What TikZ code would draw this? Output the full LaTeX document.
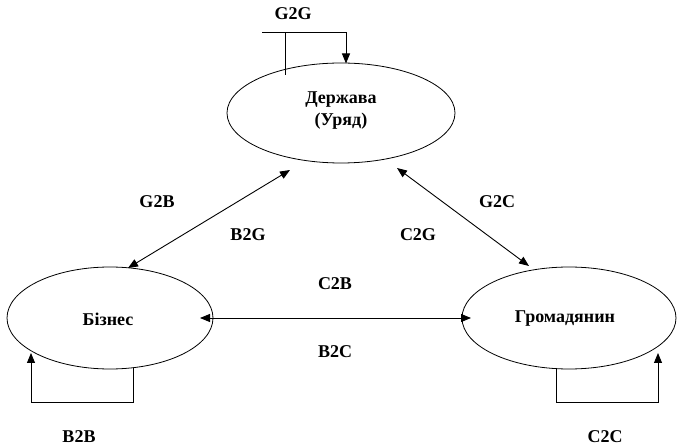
\documentclass[tikz,border=0pt]{standalone}
\usepackage{fontspec}
\setmainfont{Liberation Serif}
\usetikzlibrary{arrows.meta}
\begin{document}
\begin{tikzpicture}[x=1pt,y=-1pt,
  lbl/.style={font=\fontsize{18}{22}\selectfont\bfseries,inner sep=0pt},
  link/.style={line width=0.9pt,-{Triangle[length=10pt,width=8pt]}},
  dlink/.style={line width=0.9pt,{Triangle[length=10pt,width=8pt]}-{Triangle[length=10pt,width=8pt]}},
  plain/.style={line width=0.9pt}]
\useasboundingbox (0,0) rectangle (678,446);
% ellipses
\draw[line width=0.8pt] (341,113) ellipse [x radius=114, y radius=50];
\draw[line width=0.8pt] (110,318) ellipse [x radius=103, y radius=51];
\draw[line width=0.8pt] (569,318) ellipse [x radius=107, y radius=51];
\node[lbl,align=center] (gov) at (341,111) {Держава\\(Уряд)};
\node[lbl] (bus) at (108,319) {Бізнес};
\node[lbl] (cit) at (565,319) {Громадянин};
% coordinates
\coordinate (g1) at (290,170);
\coordinate (b1) at (128,268);
\coordinate (g2) at (397,168);
\coordinate (c1) at (529,266);
\coordinate (b2) at (200,318);
\coordinate (c2) at (471,318);
\draw[dlink] (g1) -- (b1);
\draw[dlink] (g2) -- (c1);
\draw[dlink] (b2) -- (c2);
% G2G loop
\coordinate (gl0) at (285,75);
\coordinate (gl1) at (285,32);
\coordinate (gl2) at (262,32);
\coordinate (gl3) at (346,32);
\coordinate (gl4) at (346,63.5);
\draw[plain] (gl0) -- (gl1);
\draw[link] (gl2) -- (gl3) -- (gl4);
% B2B loop
\coordinate (bl0) at (133,368);
\coordinate (bl1) at (133,402);
\coordinate (bl2) at (31,402);
\coordinate (bl3) at (31,353);
\draw[link] (bl0) -- (bl1) -- (bl2) -- (bl3);
% C2C loop
\coordinate (cl0) at (556,368);
\coordinate (cl1) at (556,402);
\coordinate (cl2) at (658,402);
\coordinate (cl3) at (658,353);
\draw[link] (cl0) -- (cl1) -- (cl2) -- (cl3);
% labels
\node[lbl] (lg2g) at (293,14) {G2G};
\node[lbl] (lg2b) at (157,202) {G2B};
\node[lbl] (lb2g) at (248,235) {B2G};
\node[lbl] (lc2g) at (418,235) {C2G};
\node[lbl] (lg2c) at (497,202) {G2C};
\node[lbl] (lc2b) at (335,284) {C2B};
\node[lbl] (lb2c) at (335,352) {B2C};
\node[lbl] (lb2b) at (79,437) {B2B};
\node[lbl] (lc2c) at (605,437) {C2C};
\end{tikzpicture}
\end{document}
